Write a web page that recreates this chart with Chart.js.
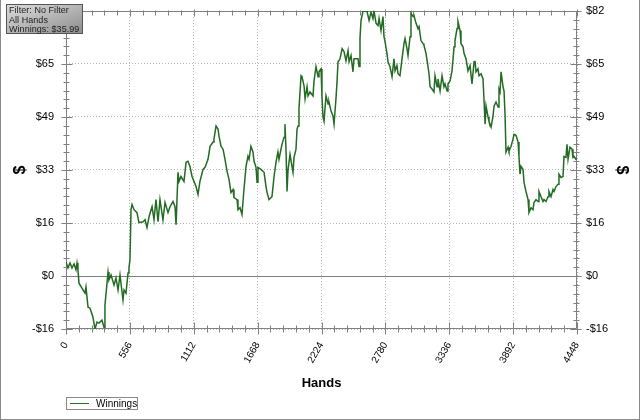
<!DOCTYPE html>
<html><head><meta charset="utf-8">
<script src="https://cdn.jsdelivr.net/npm/chart.js@4.4.0/dist/chart.umd.min.js"></script>
<style>
html,body{margin:0;padding:0;background:#fff;}
#wrap{position:relative;width:640px;height:420px;box-sizing:border-box;border:1px solid #8a8a8a;border-top:none;overflow:hidden;font-family:"Liberation Sans",Arial,sans-serif;}
#c{position:absolute;left:0;top:0;}
#filter{position:absolute;left:5px;top:4px;width:73px;height:27px;border:1px solid #555;background:linear-gradient(to bottom right,#dcdcdc,#8e8e8e);font-size:9px;line-height:9.6px;color:#222;padding:1px 0 0 2px;box-sizing:content-box;white-space:nowrap;letter-spacing:0.05px;}
#legend{position:absolute;left:65px;top:397px;width:70px;height:11px;border:1px solid #8a8a8a;font-size:10px;line-height:11px;color:#000;}
#legend .ln{position:absolute;left:3px;top:5px;width:19px;height:0;border-top:1px solid #236b23;}
#legend .tx{position:absolute;left:29px;top:0;}
</style></head>
<body>
<div id="wrap">
<canvas id="c" width="640" height="420"></canvas>
<div id="filter">Filter: No Filter<br>All Hands<br>Winnings: $35.99</div>
<div id="legend"><div class="ln"></div><div class="tx">Winnings</div></div>
</div>
<script>
const hands = [0,17,35,52,70,87,96,104,113,148,165,174,192,209,235,252,270,287,313,331,339,366,374,392,418,435,453,470,496,505,522,540,548,557,566,575,592,618,635,670,688,705,723,749,766,783,801,818,844,862,888,905,931,949,958,975,984,1001,1027,1045,1062,1079,1097,1114,1132,1149,1166,1193,1210,1236,1254,1280,1288,1306,1323,1332,1349,1367,1384,1402,1419,1436,1454,1462,1489,1497,1515,1532,1549,1567,1584,1593,1610,1628,1637,1654,1663,1671,1697,1724,1741,1750,1767,1793,1811,1828,1845,1854,1880,1898,1906,1915,1924,1933,1950,1967,1976,1985,2002,2011,2020,2028,2046,2054,2072,2081,2098,2107,2124,2150,2159,2176,2194,2202,2220,2228,2237,2246,2263,2281,2289,2307,2324,2333,2350,2359,2368,2385,2403,2420,2437,2455,2464,2481,2498,2507,2542,2551,2559,2568,2585,2603,2620,2638,2655,2672,2681,2699,2716,2725,2742,2759,2768,2777,2794,2803,2820,2838,2855,2864,2881,2890,2907,2925,2942,2951,2968,2977,2995,3003,3021,3029,3047,3064,3073,3090,3108,3116,3134,3151,3160,3169,3186,3203,3212,3230,3238,3256,3273,3290,3299,3317,3325,3343,3360,3378,3386,3404,3412,3430,3438,3456,3465,3482,3499,3517,3534,3552,3560,3569,3586,3595,3613,3630,3639,3648,3656,3674,3682,3700,3717,3726,3743,3761,3769,3778,3787,3804,3813,3822,3830,3848,3856,3874,3891,3900,3917,3935,3943,3952,3961,3978,3987,4004,4022,4030,4048,4065,4074,4091,4109,4117,4135,4152,4161,4178,4196,4204,4222,4239,4248,4265,4283,4291,4309,4326,4335,4352,4361,4370,4387,4405,4413,4422,4439,4448];
const winnings = [4.3,2.5,4.0,2.5,3.7,1.9,4.0,1.9,-2.2,-4.3,-5.3,-3.4,-9.6,-9.9,-12.7,-16.3,-14.2,-14.5,-13.6,-15.8,-9.0,1.2,-1.2,0.3,-2.8,-0.6,-4.3,0.3,-7.4,-4.3,-5.3,0.9,2.5,5.0,20.4,22.0,20.4,19.5,16.4,16.7,17.3,14.9,18.3,21.3,17.3,23.5,16.7,23.5,17.3,22.6,19.5,21.3,22.9,21.3,15.8,31.9,29.1,30.6,29.1,35.0,35.3,33.7,30.6,29.1,27.5,25.1,29.1,32.8,33.4,35.9,39.9,41.2,42.1,46.1,45.2,43.0,39.9,39.0,35.9,32.2,29.7,25.7,26.6,24.1,23.5,20.4,21.0,18.9,26.6,33.7,36.8,35.9,39.9,38.1,35.3,33.4,28.8,33.4,32.8,31.9,27.5,25.7,23.5,24.4,30.6,35.0,38.1,35.9,40.5,42.7,46.7,39.0,26.0,32.8,37.4,33.7,31.9,36.5,39.0,45.2,46.1,51.4,61.6,61.3,58.5,54.5,58.2,55.4,56.6,55.4,60.0,64.4,61.3,62.8,63.7,55.4,48.9,47.6,55.4,52.9,53.5,50.7,49.2,46.7,54.5,59.7,65.9,66.8,69.9,69.0,66.2,69.3,65.9,67.8,62.8,66.8,66.8,64.4,73.0,78.6,81.4,81.5,81.4,78.6,81.2,79.2,81.5,77.7,77.0,79.2,75.5,79.8,73.6,72.1,68.4,65.9,64.4,61.3,66.8,63.1,64.7,62.2,61.6,66.8,71.5,73.0,69.9,67.8,73.6,80.8,79.8,80.1,77.7,76.1,76.7,72.4,71.5,70.9,68.4,64.4,62.2,58.2,57.5,56.6,61.6,58.2,60.6,56.9,61.6,58.2,59.1,56.9,59.1,60.0,63.1,70.5,72.4,76.1,78.3,75.5,71.5,70.5,68.4,66.8,63.1,64.7,59.1,65.9,66.2,62.8,63.7,61.6,62.2,60.6,53.8,46.7,52.3,48.9,47.6,45.8,49.2,52.3,53.5,52.0,57.5,56.6,62.8,58.2,56.9,49.2,38.1,39.6,38.4,39.9,42.1,43.6,43.3,41.2,36.8,31.3,33.7,32.8,28.8,26.0,23.5,19.5,21.0,20.4,22.6,23.5,22.9,26.0,24.4,22.9,23.5,22.9,24.4,26.0,24.4,26.6,26.0,27.5,28.2,31.3,30.3,30.6,36.8,36.5,40.5,35.9,39.6,39.0,36.5,36.8,35.9,35.99];
const xTickValues = [0,556,1112,1668,2224,2780,3336,3892,4448];
const xTickLabels = ['0','556','1112','1668','2224','2780','3336','3892','4448'];
const yTickValues = [-16.3,0,16.3,32.6,48.9,65.2,81.5];
const yTickLabels = ['-$16','$0','$16','$33','$49','$65','$82'];

const points = hands.map((h,i)=>({x:h,y:winnings[i]}));
const GRID = '#b8b8b8', AXIS = '#808080';
const FONT = '"Liberation Sans", Arial, sans-serif';

const framePlugin = {
  id:'frame',
  beforeDatasetsDraw(chart){
    const {ctx, chartArea:a, scales} = chart;
    const xs = scales.x, ys = scales.y;
    ctx.save();
    ctx.strokeStyle = AXIS; ctx.lineWidth = 1; ctx.setLineDash([]);
    const L = (x1,y1,x2,y2)=>{ctx.beginPath();ctx.moveTo(x1,y1);ctx.lineTo(x2,y2);ctx.stroke();};
    const z = Math.round(ys.getPixelForValue(0))+0.5;
    L(a.left,z,a.right,z);
    const l = Math.round(a.left)+0.5, r = Math.round(a.right)-0.5, t = Math.round(a.top)+0.5, b = Math.round(a.bottom)-0.5;
    L(l,t,r,t); L(l,b,r,b); L(l,t,l,b); L(r,t,r,b);
    for (let i=0;i<yTickValues.length;i++){
      const py = Math.round(ys.getPixelForValue(yTickValues[i]))+0.5;
      L(l-5,py,l+6,py); L(r-6,py,r+5,py);
      if (i<yTickValues.length-1){
        for (let j=1;j<6;j++){
          const v = yTickValues[i]+(yTickValues[i+1]-yTickValues[i])*j/6;
          const q = Math.round(ys.getPixelForValue(v))+0.5;
          L(l-3,q,l+3,q); L(r-3,q,r+3,q);
        }
      }
    }
    for (let i=0;i<xTickValues.length;i++){
      const px = Math.round(xs.getPixelForValue(xTickValues[i]))+0.5;
      L(px,b-6,px,b+6); L(px,t-2,px,t+5);
      if (i<xTickValues.length-1){
        for (let j=1;j<5;j++){
          const v = xTickValues[i]+(xTickValues[i+1]-xTickValues[i])*j/5;
          const q = Math.round(xs.getPixelForValue(v))+0.5;
          L(q,b-3,q,b+4); L(q,t-1,q,t+4);
        }
      }
    }
    ctx.restore();
  }
};

function noPad(s){s.paddingTop=0;s.paddingBottom=0;s.paddingLeft=0;s.paddingRight=0;}

new Chart(document.getElementById('c'), {
  type:'line',
  data:{datasets:[{label:'Winnings',data:points,borderColor:'#236b23',backgroundColor:'#236b23',borderWidth:1.5,pointRadius:0,tension:0,fill:false,yAxisID:'y'}]},
  options:{
    responsive:false, animation:false, events:[],
    layout:{padding:{top:11,bottom:28,left:0,right:0}},
    plugins:{legend:{display:false},tooltip:{enabled:false}},
    scales:{
      x:{type:'linear',position:'bottom',min:0,max:4448,
        afterBuildTicks(s){s.ticks = xTickValues.map(v=>({value:v}));},
        afterFit(s){s.height = 63; noPad(s);},
        grid:{color:GRID,lineWidth:1,drawTicks:false},
        border:{display:false,dash:[1,2]},
        ticks:{padding:11,minRotation:60,maxRotation:60,autoSkip:false,color:'#000',font:{family:FONT,size:10},
          callback(v,i){return xTickLabels[i];}},
        title:{display:true,text:'Hands',color:'#000',font:{family:FONT,size:13,weight:'bold'},padding:{top:0,bottom:1}}
      },
      y:{type:'linear',position:'left',min:-16.3,max:81.5,
        afterBuildTicks(s){s.ticks = yTickValues.map(v=>({value:v}));},
        afterFit(s){s.width = 65; noPad(s);},
        grid:{color:GRID,lineWidth:1,drawTicks:false},
        border:{display:false,dash:[1,2]},
        ticks:{padding:12,color:'#000',font:{family:FONT,size:11},callback(v,i){return yTickLabels[i];}},
        title:{display:true,text:'$',color:'#000',font:{family:FONT,size:16,weight:'bold'},padding:10}
      },
      y2:{type:'linear',position:'right',min:-16.3,max:81.5,
        afterBuildTicks(s){s.ticks = yTickValues.map(v=>({value:v}));},
        afterFit(s){s.width = 64; noPad(s);},
        grid:{display:false,drawTicks:false},
        border:{display:false},
        ticks:{padding:9,color:'#000',font:{family:FONT,size:11},callback(v,i){return yTickLabels[i];}},
        title:{display:true,text:'$',color:'#000',font:{family:FONT,size:16,weight:'bold'},padding:10}
      }
    }
  },
  plugins:[framePlugin]
});
</script>
</body></html>
